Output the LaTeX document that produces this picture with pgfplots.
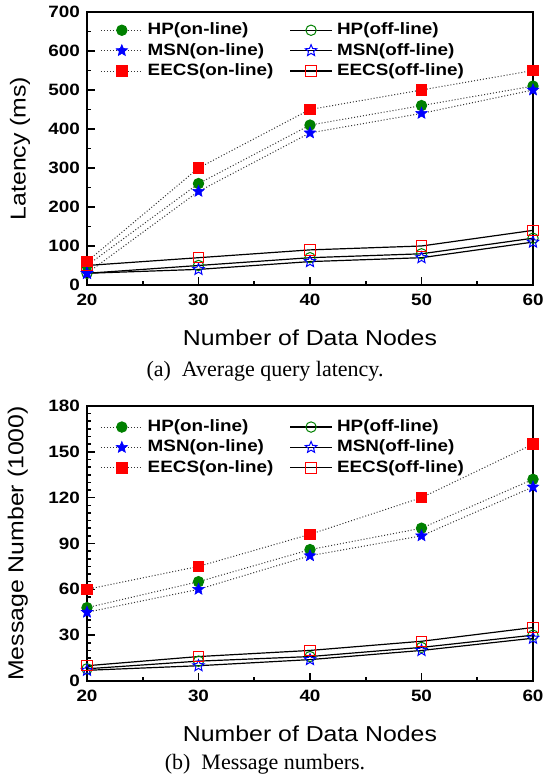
\documentclass[border=0pt]{standalone}
\usepackage{fontspec}
\setmainfont{Liberation Serif}
\setsansfont{Liberation Sans}
\newfontfamily\chartsans[FakeStretch=1.15]{Liberation Sans}
\usepackage{pgfplots}
\pgfplotsset{compat=1.18}

\definecolor{hpgreen}{RGB}{0,128,0}
\definecolor{msnblue}{RGB}{0,0,255}
\definecolor{eecsred}{RGB}{255,0,0}

% five-pointed star, filled and hollow
\pgfdeclareplotmark{fstar}{%
  \pgfpathmoveto{\pgfpointpolar{90}{\pgfplotmarksize}}%
  \pgfpathlineto{\pgfpointpolar{126}{0.45\pgfplotmarksize}}%
  \pgfpathlineto{\pgfpointpolar{162}{\pgfplotmarksize}}%
  \pgfpathlineto{\pgfpointpolar{198}{0.45\pgfplotmarksize}}%
  \pgfpathlineto{\pgfpointpolar{234}{\pgfplotmarksize}}%
  \pgfpathlineto{\pgfpointpolar{270}{0.45\pgfplotmarksize}}%
  \pgfpathlineto{\pgfpointpolar{306}{\pgfplotmarksize}}%
  \pgfpathlineto{\pgfpointpolar{342}{0.45\pgfplotmarksize}}%
  \pgfpathlineto{\pgfpointpolar{18}{\pgfplotmarksize}}%
  \pgfpathlineto{\pgfpointpolar{54}{0.45\pgfplotmarksize}}%
  \pgfpathclose\pgfusepathqfillstroke}
\pgfdeclareplotmark{ostar}{%
  \pgfpathmoveto{\pgfpointpolar{90}{\pgfplotmarksize}}%
  \pgfpathlineto{\pgfpointpolar{126}{0.45\pgfplotmarksize}}%
  \pgfpathlineto{\pgfpointpolar{162}{\pgfplotmarksize}}%
  \pgfpathlineto{\pgfpointpolar{198}{0.45\pgfplotmarksize}}%
  \pgfpathlineto{\pgfpointpolar{234}{\pgfplotmarksize}}%
  \pgfpathlineto{\pgfpointpolar{270}{0.45\pgfplotmarksize}}%
  \pgfpathlineto{\pgfpointpolar{306}{\pgfplotmarksize}}%
  \pgfpathlineto{\pgfpointpolar{342}{0.45\pgfplotmarksize}}%
  \pgfpathlineto{\pgfpointpolar{18}{\pgfplotmarksize}}%
  \pgfpathlineto{\pgfpointpolar{54}{0.45\pgfplotmarksize}}%
  \pgfpathclose\pgfusepathqstroke}

\pgfplotsset{
  netaxis/.style={
    scale only axis, width=223pt, height=136.5pt,
    xmin=20, xmax=60, ymin=0,
    xtick={20,30,...,60}, minor x tick num=1,
    tick align=inside, xtick pos=left, ytick pos=left,
    major tick length=4pt, minor tick length=2.2pt,
    axis line style={line width=1pt},
    every tick/.style={black, line width=0.8pt},
    tick label style={font=\chartsans\bfseries\fontsize{8.2}{9}\selectfont},
    xticklabel style={yshift=-0.8pt},
    /pgf/number format/assume math mode=true,
    label style={font=\chartsans\fontsize{10.8}{12}\selectfont},
    xlabel={Number of Data Nodes},
    xlabel style={at={(axis description cs:0.5,0)}, anchor=center, yshift=-26.5pt},
    legend columns=2, legend cell align=left,
    legend style={draw=none, fill=none, inner sep=0pt, anchor=north west,
      font=\chartsans\bfseries\fontsize{8.2}{8.2}\selectfont,
      nodes={inner sep=1pt, text height=6.3pt, text depth=1.9pt},
      /tikz/every odd column/.append style={column sep=1.2pt},
      /tikz/every even column/.append style={column sep=7pt}},
    legend image code/.code={%
      \draw[mark repeat=2, mark phase=2, #1] plot coordinates {(0pt,0pt) (10.5pt,0pt) (21pt,0pt)};},
    clip=false,
  },
  online/.style={densely dotted, line width=0.5pt, black!80},
  offline/.style={solid, line width=0.6pt, black},
  hpon/.style={online, mark=*, mark size=2.6pt, mark options={solid, draw=hpgreen, fill=hpgreen}},
  hpoff/.style={offline, mark=o, mark size=2.6pt, mark options={solid, draw=hpgreen, line width=0.5pt}},
  msnon/.style={online, mark=fstar, mark size=3pt, mark options={solid, draw=msnblue, fill=msnblue, line width=0.3pt}},
  msnoff/.style={offline, mark=ostar, mark size=3pt, mark options={solid, draw=msnblue, line width=0.5pt}},
  eecson/.style={online, mark=square*, mark size=2.6pt, mark options={solid, draw=eecsred, fill=eecsred}},
  eecsoff/.style={offline, mark=square, mark size=2.6pt, mark options={solid, draw=eecsred, line width=0.5pt}},
}

\begin{document}
\begin{tikzpicture}
\useasboundingbox (0,0) rectangle (272pt,390.5pt);

% (a) latency
\begin{axis}[netaxis, at={(43.5pt,248pt)}, anchor=south west,
    ymax=700, ytick={0,100,...,700}, minor y tick num=1,
    ylabel={Latency (ms)},
    ylabel style={at={(axis description cs:-0.150,0.5)}, anchor=center},
    legend style={at={(axis description cs:0.029,0.972)}}]
  \addplot[hpon] coordinates {(20,50) (30,260) (40,410) (50,460) (60,510)};
  \addlegendentry{HP(on-line)}
  \addplot[hpoff] coordinates {(20,30) (30,50) (40,70) (50,80) (60,120)};
  \addlegendentry{HP(off-line)}
  \addplot[msnon] coordinates {(20,30) (30,240) (40,390) (50,440) (60,500)};
  \addlegendentry{MSN(on-line)}
  \addplot[msnoff] coordinates {(20,30) (30,40) (40,60) (50,70) (60,110)};
  \addlegendentry{MSN(off-line)}
  \addplot[eecson] coordinates {(20,60) (30,300) (40,450) (50,500) (60,550)};
  \addlegendentry{EECS(on-line)}
  \addplot[eecsoff] coordinates {(20,50) (30,70) (40,90) (50,100) (60,140)};
  \addlegendentry{EECS(off-line)}
\end{axis}

% (b) messages
\begin{axis}[netaxis, at={(43.5pt,50pt)}, anchor=south west, height=137.5pt,
    ymax=180, ytick={0,30,...,180}, minor y tick num=5,
    ylabel={Message Number (1000)},
    ylabel style={at={(axis description cs:-0.155,0.5)}, anchor=center},
    legend style={at={(axis description cs:0.029,0.962)}}]
  \addplot[hpon] coordinates {(20,48) (30,65) (40,86) (50,100) (60,132)};
  \addlegendentry{HP(on-line)}
  \addplot[hpoff] coordinates {(20,8) (30,13) (40,16) (50,22) (60,30)};
  \addlegendentry{HP(off-line)}
  \addplot[msnon] coordinates {(20,45) (30,60) (40,82) (50,95) (60,127)};
  \addlegendentry{MSN(on-line)}
  \addplot[msnoff] coordinates {(20,7) (30,10) (40,14) (50,20) (60,28)};
  \addlegendentry{MSN(off-line)}
  \addplot[eecson] coordinates {(20,60) (30,75) (40,96) (50,120) (60,155)};
  \addlegendentry{EECS(on-line)}
  \addplot[eecsoff] coordinates {(20,10) (30,16) (40,20) (50,26) (60,35)};
  \addlegendentry{EECS(off-line)}
\end{axis}

\node[font=\fontsize{11}{12}\selectfont] at (132.5pt,205pt) {(a)~~Average query latency.};
\node[font=\fontsize{11}{12}\selectfont] at (132.5pt,8.5pt) {(b)~~Message numbers.};
\end{tikzpicture}
\end{document}
